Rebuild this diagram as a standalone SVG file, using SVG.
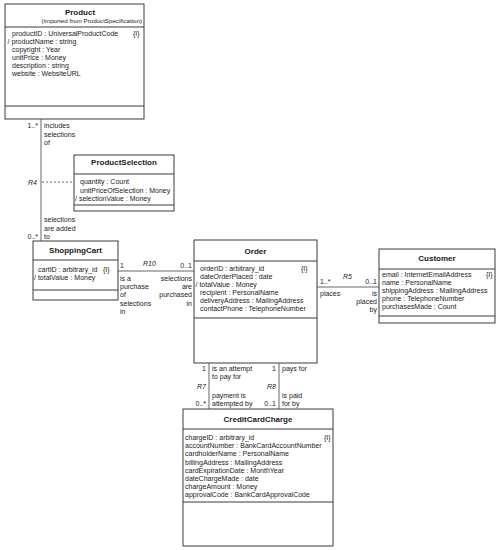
<svg xmlns="http://www.w3.org/2000/svg" width="500" height="550" viewBox="0 0 500 550">
<style>
.box{fill:#fff;stroke:#3a3a3a;stroke-width:1}
.div{stroke:#3a3a3a;stroke-width:1}
text{font-family:"Liberation Sans",Arial,sans-serif;fill:#1a1a1a}
.ti{font-size:8px;font-weight:bold;text-anchor:middle}
.at{font-size:7px}
.sub{font-size:6.2px;text-anchor:end}
.lb{font-size:7px}
.e{text-anchor:end}
.rn{font-style:italic}
.conn{stroke:#666;stroke-width:1;fill:none}
.dash{stroke-dasharray:2 2}
</style>
<rect width="500" height="550" fill="#fff"/>
<g id="connectors">
<line class="conn" x1="41" y1="119" x2="41" y2="241"/>
<line class="conn dash" x1="42" y1="182" x2="74" y2="182"/>
<line class="conn" x1="118" y1="271" x2="194" y2="271"/>
<line class="conn" x1="317" y1="287" x2="379" y2="287"/>
<line class="conn" x1="209" y1="363" x2="209" y2="409"/>
<line class="conn" x1="279" y1="363" x2="279" y2="409"/>
<text class="lb e" x="38" y="128">1..*</text>
<text class="lb" x="44" y="128">includes</text>
<text class="lb" x="44" y="136.5">selections</text>
<text class="lb" x="44" y="145">of</text>
<text class="lb rn" x="28" y="184.5">R4</text>
<text class="lb" x="44" y="222">selections</text>
<text class="lb" x="44" y="230.5">are added</text>
<text class="lb" x="44" y="239">to</text>
<text class="lb e" x="38" y="239">0..*</text>
<text class="lb" x="120" y="268">1</text>
<text class="lb rn" x="143" y="266">R10</text>
<text class="lb e" x="192" y="268">0..1</text>
<text class="lb" x="120" y="281">is a</text>
<text class="lb" x="120" y="289">purchase</text>
<text class="lb" x="120" y="297">of</text>
<text class="lb" x="120" y="305.5">selections</text>
<text class="lb" x="120" y="314">in</text>
<text class="lb e" x="192" y="281">selections</text>
<text class="lb e" x="192" y="289">are</text>
<text class="lb e" x="192" y="297">purchased</text>
<text class="lb e" x="192" y="305.5">in</text>
<text class="lb" x="320" y="284">1..*</text>
<text class="lb rn" x="343" y="279">R5</text>
<text class="lb e" x="377" y="284">0..1</text>
<text class="lb" x="320" y="296">places</text>
<text class="lb e" x="377" y="296">is</text>
<text class="lb e" x="377" y="304">placed</text>
<text class="lb e" x="377" y="312">by</text>
<text class="lb e" x="206" y="371">1</text>
<text class="lb" x="212" y="371">is an attempt</text>
<text class="lb" x="212" y="379">to pay for</text>
<text class="lb rn" x="197" y="389">R7</text>
<text class="lb" x="212" y="398">payment is</text>
<text class="lb" x="212" y="406">attempted by</text>
<text class="lb e" x="206" y="406">0..*</text>
<text class="lb e" x="276" y="371">1</text>
<text class="lb" x="282" y="371">pays for</text>
<text class="lb rn" x="267" y="389">R8</text>
<text class="lb" x="282" y="398">is paid</text>
<text class="lb" x="282" y="406">for by</text>
<text class="lb e" x="276" y="406">0..1</text>
</g>
<g id="Product">
<rect class="box" x="5" y="4" width="139" height="115"/>
<line class="div" x1="5" y1="27" x2="144" y2="27"/>
<line class="div" x1="5" y1="106" x2="144" y2="106"/>
<text class="ti" x="80" y="15">Product</text>
<text class="sub" x="142" y="22.5">(imported from ProductSpecification)</text>
<text class="at" x="12" y="36">productID : UniversalProductCode</text>
<text class="at" x="133" y="36">{I}</text>
<text class="at" x="7.5" y="44">/ productName : string</text>
<text class="at" x="12" y="52">copyright : Year</text>
<text class="at" x="12" y="60">unitPrice : Money</text>
<text class="at" x="12" y="68">description : string</text>
<text class="at" x="12" y="76">website : WebsiteURL</text>
</g>
<g id="ProductSelection">
<rect class="box" x="74" y="155" width="100" height="56"/>
<line class="div" x1="74" y1="174" x2="174" y2="174"/>
<line class="div" x1="74" y1="205" x2="174" y2="205"/>
<text class="ti" x="124" y="165">ProductSelection</text>
<text class="at" x="80" y="184">quantity : Count</text>
<text class="at" x="80" y="192.5">unitPriceOfSelection : Money</text>
<text class="at" x="75" y="201">/ selectionValue : Money</text>
</g>
<g id="ShoppingCart">
<rect class="box" x="33" y="241" width="85" height="59"/>
<line class="div" x1="33" y1="260" x2="118" y2="260"/>
<line class="div" x1="33" y1="290" x2="118" y2="290"/>
<text class="ti" x="75.5" y="253">ShoppingCart</text>
<text class="at" x="38" y="272">cartID : arbitrary_id</text>
<text class="at" x="103" y="272">{I}</text>
<text class="at" x="34" y="280">/ totalValue : Money</text>
</g>
<g id="Order">
<rect class="box" x="194" y="240" width="123" height="123"/>
<line class="div" x1="194" y1="261" x2="317" y2="261"/>
<line class="div" x1="194" y1="318" x2="317" y2="318"/>
<text class="ti" x="255.5" y="254">Order</text>
<text class="at" x="200" y="271">orderID : arbitrary_id</text>
<text class="at" x="301" y="271">{I}</text>
<text class="at" x="200" y="279">dateOrderPlaced : date</text>
<text class="at" x="195.5" y="287">/ totalValue : Money</text>
<text class="at" x="200" y="295">recipient : PersonalName</text>
<text class="at" x="200" y="303">deliveryAddress : MailingAddress</text>
<text class="at" x="200" y="311">contactPhone : TelephoneNumber</text>
</g>
<g id="Customer">
<rect class="box" x="379" y="249" width="116" height="74"/>
<line class="div" x1="379" y1="269" x2="495" y2="269"/>
<line class="div" x1="379" y1="316" x2="495" y2="316"/>
<text class="ti" x="437" y="261">Customer</text>
<text class="at" x="382" y="277">email : InternetEmailAddress</text>
<text class="at" x="486" y="277">{I}</text>
<text class="at" x="382" y="285">name : PersonalName</text>
<text class="at" x="382" y="293">shippingAddress : MailingAddress</text>
<text class="at" x="382" y="301">phone : TelephoneNumber</text>
<text class="at" x="382" y="309">purchasesMade : Count</text>
</g>
<g id="CreditCardCharge">
<rect class="box" x="183" y="409" width="150" height="137"/>
<line class="div" x1="183" y1="429" x2="333" y2="429"/>
<line class="div" x1="183" y1="502" x2="333" y2="502"/>
<text class="ti" x="258" y="422">CreditCardCharge</text>
<text class="at" x="185" y="440">chargeID : arbitrary_id</text>
<text class="at" x="324" y="440">{I}</text>
<text class="at" x="185" y="448.2">accountNumber : BankCardAccountNumber</text>
<text class="at" x="185" y="456.4">cardholderName : PersonalName</text>
<text class="at" x="185" y="464.6">billingAddress : MailingAddress</text>
<text class="at" x="185" y="472.8">cardExpirationDate : MonthYear</text>
<text class="at" x="185" y="481">dateChargeMade : date</text>
<text class="at" x="185" y="489.2">chargeAmount : Money</text>
<text class="at" x="185" y="497.4">approvalCode : BankCardApprovalCode</text>
</g>
</svg>
